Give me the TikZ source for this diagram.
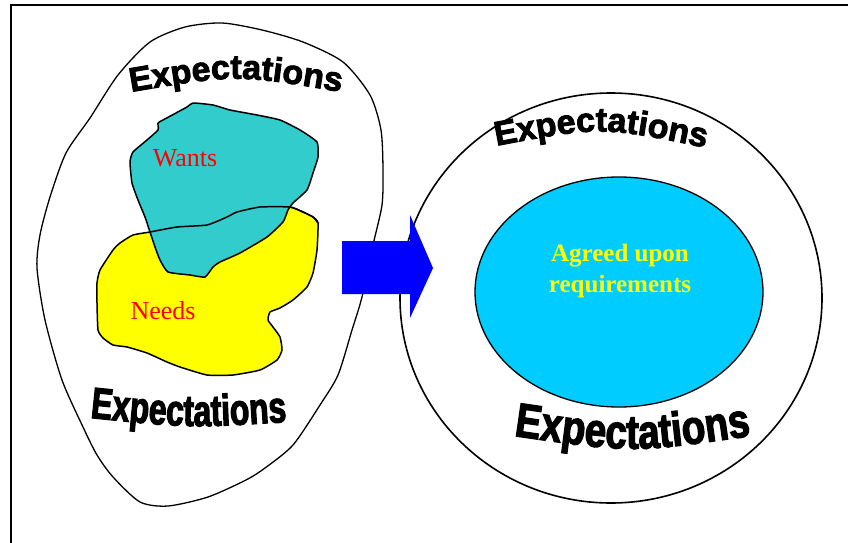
\documentclass[tikz,border=0pt]{standalone}
\usepackage{fontspec}
\setmainfont{Liberation Serif}
\newfontfamily\artfont{Liberation Sans Bold}[FakeBold=2.6]
\newfontfamily\artnarrow{Liberation Sans Bold}[FakeBold=2.6, FakeStretch=0.72]
\newfontfamily\artmid{Liberation Sans Bold}[FakeBold=2.6, FakeStretch=0.8]
\usetikzlibrary{decorations.text}

\definecolor{wantcyan}{HTML}{33CCCC}
\definecolor{needyellow}{HTML}{FFFF00}
\definecolor{agreedblue}{HTML}{00CCFF}
\definecolor{arrowblue}{HTML}{0000FF}
\definecolor{labelred}{HTML}{FF0000}

\begin{document}
\begin{tikzpicture}[x=1pt,y=-1pt,
  frameline/.style={draw=black, line width=1.7pt},
  outline/.style={draw=black, line width=1.3pt, line join=round},
  regionline/.style={draw=black, line width=1.5pt, line join=round},
  redlabel/.style={text=labelred, font=\fontsize{26pt}{30pt}\selectfont, inner sep=0pt}]

\useasboundingbox (0,0) rectangle (848,543);

% frame
\draw[frameline] (11,543) -- (11,5) -- (848,5);

% left: expectations boundary
\draw[outline] plot[smooth cycle, tension=0.45] coordinates {
  (222,23) (262,30) (303,42) (343,62) (370,95) (381,130) (383,170)
  (382,205) (373,245) (362,297) (352,330) (338,375) (320,405) (293,445)
  (265,468) (246,480) (208,497) (168,506) (140,502) (113,477) (97,455)
  (83,427) (62,380) (45,320) (37,268) (40,235) (50,197) (66,153)
  (90,118) (118,75) (150,42) (185,27)};

% needs region
\path[fill=needyellow, regionline] plot[smooth cycle, tension=0.3] coordinates {
  (150,232) (133,235) (120,243) (113,250) (100,270) (97,283) (97,303)
  (98,330) (103,338) (113,345) (127,347) (147,353) (167,362) (180,367)
  (207,375) (233,375) (260,370) (277,360) (282,350) (280,337) (273,327)
  (268,320) (270,312) (280,308) (293,300) (307,287) (313,273) (317,250)
  (318,223) (313,217) (303,212) (290,207) (260,207) (237,212) (227,217)
  (207,225) (177,227)};

% wants region, overlapping the needs
\path[fill=wantcyan, regionline] plot[smooth cycle, tension=0.3] coordinates {
  (130,162) (133,152) (147,140) (158,130) (158,123) (163,120) (187,107)
  (193,103) (213,105) (230,110) (257,115) (280,120) (300,130) (317,142)
  (318,157) (313,173) (307,190) (293,203) (288,210) (283,222) (267,237)
  (240,253) (220,262) (213,267) (205,277) (190,275) (168,272) (160,260)
  (155,247) (150,232) (145,217) (138,200) (132,183)};

% upper edge of the needs, seen through the wants
\draw[regionline] plot[smooth, tension=0.3] coordinates {
  (318,223) (313,217) (303,212) (290,207) (260,207) (237,212) (227,217)
  (207,225) (177,227) (150,232)};

\node[redlabel] (wants) at (185,158) {Wants};
\node[redlabel] (needs) at (163,311) {Needs};

% right: expectations around the agreed requirements
\draw[black, line width=1.6pt] (611,298) ellipse [x radius=211, y radius=205];
\draw[fill=agreedblue, draw=black, line width=1.3pt] (619,292) ellipse [x radius=144, y radius=115];
\node[text=needyellow, align=center, inner sep=0pt,
      font=\bfseries\fontsize{25pt}{31pt}\selectfont] (agreed) at (620,271)
  {Agreed upon\\requirements};

% block arrow
\fill[arrowblue] (342,241) -- (410,241) -- (410,215) -- (433,268)
  -- (410,318) -- (410,294) -- (342,294) -- cycle;

% curved "Expectations" lettering
\path[decorate, decoration={text along path, text align=center,
  text={|\artfont\fontsize{34pt}{34pt}\selectfont|Expectations}}]
  (125,93) .. controls (236,74) .. (347,93);
\path[decorate, decoration={text along path, text align=center,
  text={|\artnarrow\fontsize{44pt}{44pt}\selectfont|Expectations}}]
  (92,418) .. controls (190,428) .. (285,422);
\path[decorate, decoration={text along path, text align=center,
  text={|\artfont\fontsize{34pt}{34pt}\selectfont|Expectations}}]
  (490,147) .. controls (601,126) .. (712,149);
\path[decorate, decoration={text along path, text align=center,
  text={|\artmid\fontsize{48pt}{48pt}\selectfont|Expectations}}]
  (515,436) .. controls (632,453) .. (750,436);

\end{tikzpicture}
\end{document}
